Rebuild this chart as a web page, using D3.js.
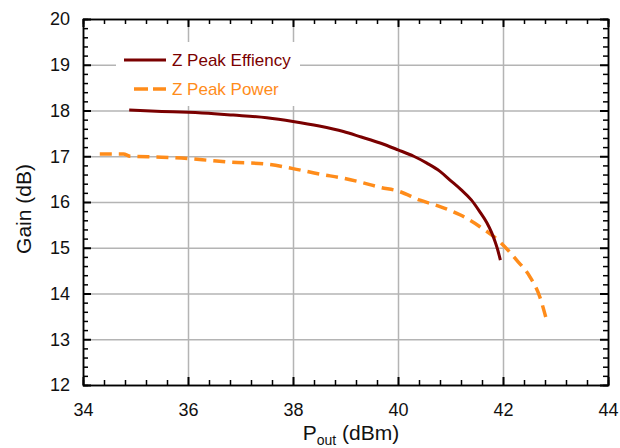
<!DOCTYPE html>
<html>
<head>
<meta charset="utf-8">
<script src="https://cdn.jsdelivr.net/npm/d3@7"></script>
<style>
  body { margin: 0; background: #fff; }
  svg { display: block; font-family: "Liberation Sans", Arial, sans-serif; }
  .grid line { stroke: #b4b4b4; stroke-width: 1.5; }
  .grid path { display: none; }
  .axis path, .axis line { stroke: #000; }
  .axis path { stroke-width: 1.5; }
  .axis text { font-size: 18px; fill: #111; }
</style>
</head>
<body>
<svg id="chart" width="620" height="448"></svg>
<script>
// Z Peak Effiency curve
const effPout = [34.88, 35.5, 36.0, 36.5, 36.86, 37.5, 38.0, 38.5, 38.96, 39.3, 39.66, 40.0, 40.3, 40.55, 40.8, 40.99, 41.2, 41.4, 41.55, 41.69, 41.78, 41.85, 41.9, 41.95];
const effGain = [18.01, 17.98, 17.96, 17.93, 17.9, 17.84, 17.76, 17.66, 17.54, 17.42, 17.29, 17.14, 17.0, 16.85, 16.67, 16.48, 16.27, 16.04, 15.8, 15.55, 15.34, 15.13, 14.95, 14.73];

// Z Peak Power curve
const powPout = [34.32, 34.77, 34.9, 35.5, 35.99, 36.4, 36.8, 37.5, 38.0, 38.51, 38.96, 39.3, 39.66, 40.0, 40.42, 40.8, 41.18, 41.56, 41.94, 42.26, 42.51, 42.7, 42.82];
const powGain = [17.05, 17.05, 17.0, 16.98, 16.95, 16.91, 16.87, 16.83, 16.73, 16.61, 16.52, 16.43, 16.32, 16.24, 16.04, 15.9, 15.72, 15.46, 15.13, 14.73, 14.37, 13.93, 13.46];

const xTicks = [34, 36, 38, 40, 42, 44];
const yTicks = [12, 13, 14, 15, 16, 17, 18, 19, 20];
const seriesNames = ["Z Peak Effiency", "Z Peak Power"];

const svg = d3.select("#chart");
const pLeft = 83, pRight = 608, pTop = 19, pBottom = 385;

const x = d3.scaleLinear().domain([34, 44]).range([pLeft, pRight]);
const y = d3.scaleLinear().domain([12, 20]).range([pBottom, pTop]);

// minor tick positions
const xMinor = d3.range(34, 44.001, 0.4).filter(v => Math.abs(v / 2 - Math.round(v / 2)) > 1e-6);
const yMinor = d3.range(12, 20.001, 0.2).filter(v => Math.abs(v - Math.round(v)) > 1e-6);

// grid
svg.append("g").attr("class", "grid")
    .attr("transform", `translate(0,${pBottom})`)
    .call(d3.axisBottom(x).tickValues(xTicks.slice(1, -1)).tickSize(-(pBottom - pTop)).tickFormat(""));
svg.append("g").attr("class", "grid")
    .attr("transform", `translate(${pLeft},0)`)
    .call(d3.axisLeft(y).tickValues(yTicks.slice(1, -1)).tickSize(-(pRight - pLeft)).tickFormat(""));

// legend background covers grid
svg.append("rect")
    .attr("x", 116).attr("y", 42).attr("width", 184).attr("height", 64)
    .attr("fill", "#fff");

const line = d3.line().x(d => x(d[0])).y(d => y(d[1])).curve(d3.curveMonotoneX);

svg.append("path")
    .datum(powPout.map((v, i) => [v, powGain[i]]))
    .attr("d", line)
    .attr("fill", "none")
    .attr("stroke", "#ff8c1a")
    .attr("stroke-width", 3.5)
    .attr("stroke-dasharray", "12,7");

svg.append("path")
    .datum(effPout.map((v, i) => [v, effGain[i]]))
    .attr("d", line)
    .attr("fill", "none")
    .attr("stroke", "#7a0000")
    .attr("stroke-width", 3);

// axes: minor ticks first, then majors with labels
function minorAxis(axis, tr) {
    svg.append("g").attr("class", "axis").attr("transform", tr)
        .call(axis.tickSize(-5).tickFormat(""))
        .call(g => g.selectAll("line").attr("stroke-width", 1.5));
}
minorAxis(d3.axisBottom(x).tickValues(xMinor), `translate(0,${pBottom})`);
minorAxis(d3.axisTop(x).tickValues(xMinor), `translate(0,${pTop})`);
minorAxis(d3.axisLeft(y).tickValues(yMinor), `translate(${pLeft},0)`);
minorAxis(d3.axisRight(y).tickValues(yMinor), `translate(${pRight},0)`);

svg.append("g").attr("class", "axis").attr("transform", `translate(0,${pBottom})`)
    .call(d3.axisBottom(x).tickValues(xTicks).tickSize(-8).tickPadding(18).tickSizeOuter(0))
    .call(g => g.selectAll("line").attr("stroke-width", 2));
svg.append("g").attr("class", "axis").attr("transform", `translate(0,${pTop})`)
    .call(d3.axisTop(x).tickValues(xTicks).tickSize(-8).tickFormat("").tickSizeOuter(0))
    .call(g => g.selectAll("line").attr("stroke-width", 2));
svg.append("g").attr("class", "axis").attr("transform", `translate(${pLeft},0)`)
    .call(d3.axisLeft(y).tickValues(yTicks).tickSize(-8).tickPadding(13).tickSizeOuter(0))
    .call(g => g.selectAll("line").attr("stroke-width", 2));
svg.append("g").attr("class", "axis").attr("transform", `translate(${pRight},0)`)
    .call(d3.axisRight(y).tickValues(yTicks).tickSize(-8).tickFormat("").tickSizeOuter(0))
    .call(g => g.selectAll("line").attr("stroke-width", 2));

// legend
const legend = svg.append("g");
legend.append("line").attr("x1", 124).attr("x2", 166).attr("y1", 60).attr("y2", 60)
    .attr("stroke", "#7a0000").attr("stroke-width", 3);
legend.append("text").attr("x", 172).attr("y", 66).attr("font-size", 17)
    .attr("fill", "#7a0000").text(seriesNames[0]);
legend.append("line").attr("x1", 134).attr("x2", 166).attr("y1", 89).attr("y2", 89)
    .attr("stroke", "#ff8c1a").attr("stroke-width", 3.5).attr("stroke-dasharray", "14,5");
legend.append("text").attr("x", 172).attr("y", 95).attr("font-size", 17)
    .attr("fill", "#ff8c1a").text(seriesNames[1]);

// axis titles
svg.append("text")
    .attr("transform", "translate(31,209) rotate(-90)")
    .attr("text-anchor", "middle")
    .attr("font-size", 21)
    .attr("fill", "#111")
    .text("Gain (dB)");

const xt = svg.append("text")
    .attr("x", 351).attr("y", 440)
    .attr("text-anchor", "middle")
    .attr("font-size", 21)
    .attr("fill", "#111");
xt.append("tspan").text("P");
xt.append("tspan").attr("font-size", 14).attr("dy", 5).text("out");
xt.append("tspan").attr("dy", -5).text(" (dBm)");
</script>
</body>
</html>
